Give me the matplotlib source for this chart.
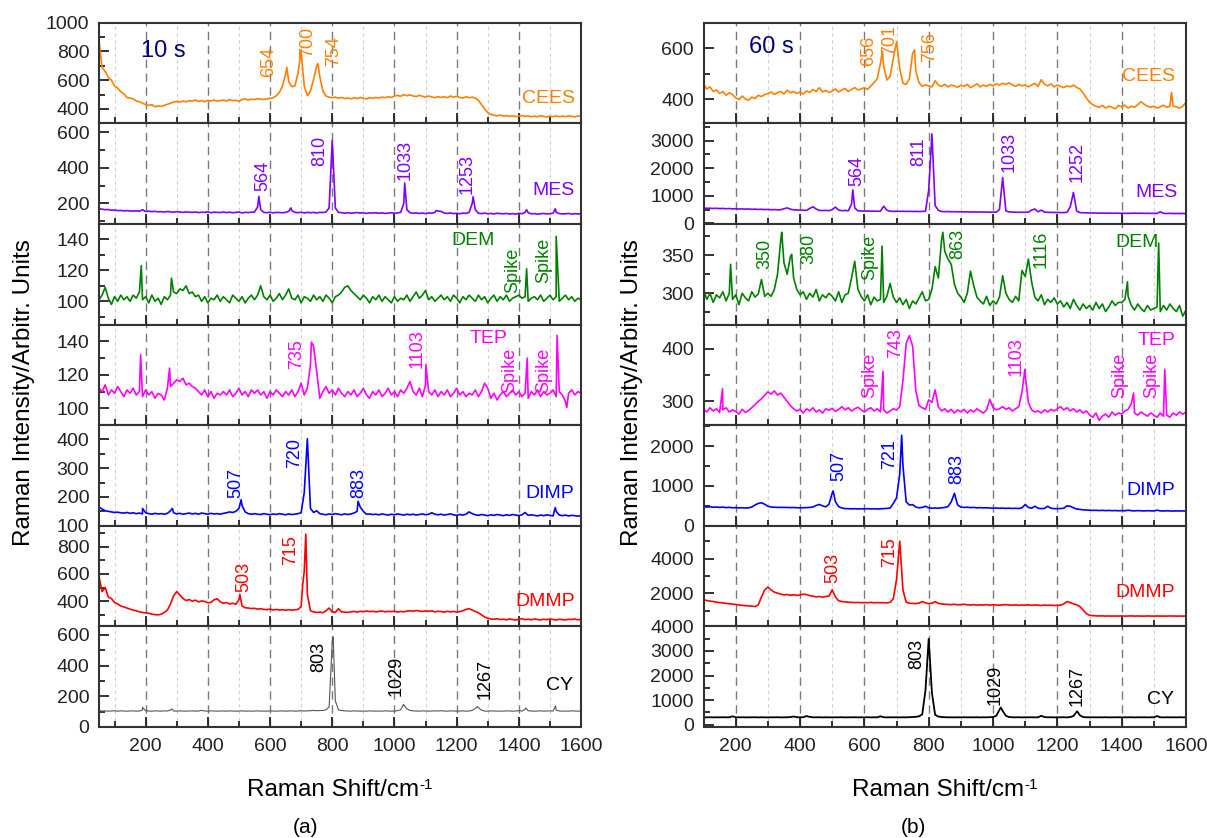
#!/usr/bin/env python3

import numpy as np
import matplotlib.pyplot as plt
from matplotlib.ticker import MultipleLocator

plt.rcParams['font.family'] = ['Liberation Sans', 'DejaVu Sans']
plt.rcParams['mathtext.default'] = 'regular'

# Raman shift grids (cm-1), 10 s panel and 60 s panel
shift_a = np.arange(50, 1601, 10)
shift_b = np.arange(100, 1601, 10)

# ---------------- (a) 10 s ----------------
cees_a = [880, 690, 660, 620, 600, 560, 545, 520, 505, 480,
          475, 470, 455, 450, 440, 430, 425, 430, 415, 420,
          418, 425, 432, 440, 448, 452, 448, 455, 450, 458,
          455, 462, 452, 458, 450, 460, 455, 462, 455, 458,
          462, 455, 465, 458, 460, 452, 466, 470, 462, 468,
          465, 472, 468, 466, 470, 474, 478, 492, 515, 560,
          640, 590, 555, 560, 650, 800, 560, 492, 525, 605,
          700, 625, 525, 490, 482, 478, 482, 475, 480, 472,
          476, 470, 478, 472, 480, 474, 470, 478, 473, 480,
          476, 482, 478, 485, 480, 490, 494, 488, 500, 492,
          498, 490, 486, 495, 488, 482, 490, 484, 478, 486,
          480, 485, 478, 490, 482, 488, 480, 476, 485, 478,
          482, 476, 460, 430, 400, 375, 362, 356, 352, 358,
          350, 354, 348, 352, 346, 350, 355, 348, 352, 345,
          350, 346, 352, 348, 344, 350, 347, 352, 346, 350,
          346, 352, 348, 345, 350, 352]
cees_a_pk = ([654, 754], [690, 715])

mes_a = [170, 168, 165, 166, 162, 163, 160, 161, 158, 160,
         158, 157, 159, 156, 165, 155, 157, 154, 156, 153,
         154, 152, 155, 153, 151, 154, 152, 150, 153, 151,
         150, 152, 149, 151, 150, 153, 148, 151, 150, 149,
         152, 149, 151, 148, 150, 152, 147, 150, 149, 151,
         152, 180, 165, 150, 148, 151, 147, 150, 149, 148,
         150, 156, 160, 150, 148, 151, 147, 150, 148, 150,
         147, 150, 149, 152, 175, 555, 175, 150, 148, 146,
         148, 145, 147, 149, 146, 148, 144, 147, 146, 148,
         145, 147, 144, 146, 148, 145, 147, 150, 200, 165,
         148, 145, 147, 144, 146, 143, 147, 145, 150, 158,
         155, 146, 144, 147, 143, 145, 142, 146, 144, 150,
         200, 165, 145, 143, 146, 142, 144, 141, 145, 143,
         142, 144, 141, 143, 140, 145, 142, 150, 148, 142,
         143, 140, 142, 144, 141, 143, 145, 150, 143, 141,
         142, 144, 140, 143, 141, 142]
mes_a_pk = ([564, 667, 1033, 1134, 1253, 1425, 1517],
            [240, 175, 315, 160, 238, 165, 170])

dem_a = [101, 104, 109, 102, 98, 103, 100, 104, 101, 103,
         100, 104, 102, 106, 101, 103, 99, 104, 100, 102,
         98, 103, 101, 104, 106, 105, 108, 107, 110, 105,
         106, 103, 104, 100, 103, 99, 102, 101, 104, 100,
         103, 101, 99, 104, 102, 100, 103, 99, 102, 104,
         101, 104, 110, 103, 101, 104, 100, 102, 105, 101,
         104, 108, 102, 101, 104, 99, 103, 102, 100, 104,
         101, 103, 100, 104, 102, 99, 103, 104, 106, 109,
         110, 107, 105, 103, 101, 104, 102, 99, 103, 101,
         104, 100, 103, 101, 99, 103, 100, 102, 101, 104,
         100, 103, 106, 102, 104, 107, 101, 103, 100, 102,
         104, 101, 103, 100, 104, 102, 99, 103, 101, 104,
         102, 100, 104, 101, 103, 99, 102, 104, 100, 103,
         101, 104, 100, 102, 103, 104, 102, 103, 100, 102,
         103, 101, 104, 100, 102, 104, 101, 103, 100, 102,
         104, 101, 103, 100, 102, 101]
dem_a_pk = ([186, 283, 1425, 1520], [123, 115, 121, 142])

tep_a = [112, 110, 114, 108, 111, 109, 113, 110, 107, 111,
         109, 112, 108, 110, 107, 111, 108, 110, 106, 109,
         108, 105, 112, 113, 115, 117, 116, 118, 114, 115,
         113, 112, 110, 108, 111, 107, 110, 106, 109, 108,
         110, 108, 111, 107, 109, 112, 108, 110, 107, 111,
         109, 111, 108, 110, 106, 110, 108, 111, 109, 107,
         110, 108, 111, 107, 110, 115, 108, 112, 126, 137,
         122, 106, 110, 113, 109, 111, 108, 112, 109, 107,
         110, 108, 111, 107, 109, 112, 108, 106, 110, 108,
         111, 107, 109, 112, 108, 110, 107, 111, 109, 112,
         116, 110, 108, 112, 107, 114, 110, 108, 111, 107,
         110, 108, 111, 107, 109, 112, 108, 110, 107, 109,
         108, 111, 107, 110, 115, 112, 106, 109, 105, 108,
         110, 107, 109, 111, 108, 110, 107, 109, 106, 110,
         108, 111, 107, 110, 108, 109, 111, 107, 110, 108,
         104, 109, 111, 108, 110, 109]
tep_a_pk = ([184, 277, 733, 1101, 1427, 1523, 1554],
            [132, 124, 139.5, 126, 130, 143.5, 100.5])

dimp_a = [165, 158, 152, 150, 148, 146, 147, 145, 144, 146,
          143, 145, 142, 144, 141, 145, 142, 140, 143, 141,
          142, 140, 143, 152, 145, 141, 143, 140, 142, 144,
          141, 143, 140, 144, 142, 140, 143, 141, 142, 140,
          143, 145, 148, 146, 150, 160, 170, 148, 142, 140,
          142, 140, 139, 142, 140, 138, 141, 139, 142, 140,
          138, 141, 139, 140, 142, 145, 215, 402, 160, 146,
          152, 142, 140, 138, 141, 139, 142, 140, 138, 141,
          139, 141, 144, 150, 165, 150, 140, 141, 139, 140,
          138, 141, 139, 137, 140, 138, 141, 139, 137, 140,
          138, 140, 137, 139, 141, 138, 140, 145, 140, 138,
          140, 137, 139, 141, 138, 136, 139, 137, 140, 148,
          142, 138, 136, 139, 137, 135, 138, 136, 139, 137,
          135, 138, 136, 139, 137, 135, 138, 146, 136, 138,
          136, 134, 137, 135, 138, 136, 134, 150, 137, 135,
          137, 134, 136, 135, 133, 136]
dimp_a_pk = ([190, 286, 507, 883, 1517], [160, 160, 190, 185, 163])

dmmp_a = [580, 470, 500, 430, 420, 390, 380, 365, 358, 350,
          342, 335, 330, 322, 318, 315, 312, 305, 302, 300,
          305, 318, 335, 380, 440, 470, 445, 420, 405, 412,
          400, 408, 395, 402, 398, 388, 392, 410, 418, 395,
          385, 390, 380, 385, 378, 410, 365, 352, 350, 346,
          348, 342, 345, 340, 338, 342, 336, 340, 335, 338,
          334, 338, 335, 337, 340, 360, 620, 450, 330, 322,
          318, 320, 316, 330, 350, 322, 318, 345, 322, 320,
          318, 322, 325, 320, 326, 323, 328, 324, 326, 322,
          325, 328, 322, 326, 324, 327, 320, 325, 322, 328,
          330, 326, 332, 328, 325, 329, 326, 330, 322, 326,
          324, 320, 326, 322, 325, 320, 324, 330, 340, 345,
          335, 325, 315, 300, 285, 275, 270, 268, 272, 266,
          268, 264, 270, 266, 262, 268, 272, 265, 268, 264,
          270, 266, 263, 268, 265, 270, 266, 262, 268, 265,
          263, 268, 266, 270, 264, 268]
dmmp_a_pk = ([503, 705, 715], [450, 520, 891])

cy_a = [106, 104, 105, 103, 104, 106, 103, 105, 104, 103,
        104, 105, 103, 104, 110, 106, 104, 103, 105, 104,
        103, 105, 104, 110, 104, 103, 105, 104, 103, 104,
        105, 103, 104, 108, 104, 103, 105, 104, 103, 104,
        104, 103, 105, 104, 103, 104, 105, 103, 104, 103,
        104, 105, 103, 104, 103, 105, 104, 103, 104, 105,
        103, 104, 105, 103, 104, 106, 104, 105, 106, 108,
        106, 107, 108, 112, 130, 560, 170, 112, 107, 105,
        104, 103, 105, 104, 103, 104, 103, 105, 104, 103,
        104, 103, 105, 104, 103, 104, 106, 112, 145, 118,
        108, 105, 104, 103, 105, 104, 103, 104, 105, 104,
        106, 104, 103, 105, 104, 103, 104, 105, 103, 104,
        108, 120, 125, 110, 104, 103, 105, 104, 103, 104,
        103, 105, 104, 103, 104, 106, 104, 115, 106, 104,
        103, 104, 105, 103, 104, 105, 104, 110, 104, 103,
        104, 103, 105, 104, 103, 104]
cy_a_pk = ([190, 285, 803, 1029, 1267, 1422, 1518],
           [128, 118, 585, 146, 133, 124, 137])

# ---------------- (b) 60 s ----------------
cees_b = [457, 440, 448, 430, 436, 422, 430, 415, 425, 418,
          405, 398, 412, 400, 396, 408, 402, 415, 410, 418,
          422, 428, 418, 425, 430, 420, 435, 425, 430, 422,
          428, 420, 432, 426, 438, 430, 445, 428, 434, 426,
          432, 440, 428, 436, 442, 430, 438, 445, 436, 440,
          445, 438, 452, 465, 480, 540, 530, 475, 490, 560,
          626, 520, 462, 458, 480, 580, 510, 465, 450, 456,
          452, 448, 472, 455, 450, 458, 448, 455, 452, 446,
          455, 450, 458, 445, 452, 460, 448, 455, 450, 458,
          452, 460, 455, 462, 458, 464, 456, 450, 458, 452,
          456, 448, 455, 462, 450, 476, 458, 452, 460, 448,
          455, 450, 445, 452, 448, 455, 446, 440, 425, 405,
          388, 378, 372, 368, 375, 365, 372, 368, 362, 375,
          370, 376, 365, 372, 368, 378, 390, 380, 372, 368,
          372, 365, 370, 376, 368, 372, 372, 370, 365, 372,
          388]
cees_b_pk = ([656, 756, 1555], [587, 593, 427])

mes_b = [555, 545, 550, 540, 548, 535, 542, 530, 538, 525,
         530, 520, 525, 515, 520, 510, 515, 505, 510, 500,
         505, 495, 500, 490, 495, 530, 560, 515, 490, 485,
         480, 475, 470, 540, 600, 520, 470, 465, 470, 460,
         500, 590, 480, 460, 470, 455, 700, 560, 455, 450,
         445, 450, 440, 445, 438, 442, 620, 480, 440, 436,
         440, 435, 438, 432, 436, 430, 434, 428, 432, 440,
         1200, 3240, 650, 470, 430, 425, 428, 420, 425, 418,
         420, 415, 418, 412, 416, 410, 414, 408, 412, 405,
         410, 405, 500, 1660, 450, 415, 410, 405, 400, 405,
         400, 410, 480, 520, 420, 480, 410, 400, 398, 395,
         392, 395, 390, 400, 600, 1120, 450, 390, 385, 380,
         378, 375, 372, 370, 374, 368, 372, 366, 370, 368,
         365, 368, 362, 366, 370, 364, 368, 362, 365, 360,
         364, 360, 420, 362, 358, 362, 356, 360, 355, 358,
         356]
mes_b_pk = ([564], [1210])

dem_b = [305, 292, 300, 288, 298, 294, 302, 290, 300, 292,
         298, 285, 300, 294, 290, 302, 295, 299, 318, 296,
         300, 296, 305, 325, 370, 340, 325, 348, 320, 305,
         298, 302, 292, 300, 295, 305, 290, 298, 294, 300,
         296, 290, 302, 288, 298, 300, 320, 342, 305, 296,
         290, 298, 285, 295, 290, 292, 288, 296, 313, 295,
         288, 294, 285, 292, 280, 290, 286, 294, 302, 290,
         292, 305, 335, 320, 370, 355, 345, 338, 312, 300,
         295, 288, 300, 329, 310, 295, 290, 286, 296, 284,
         290, 286, 295, 323, 300, 292, 288, 296, 290, 330,
         322, 345, 315, 295, 290, 298, 285, 292, 288, 294,
         286, 290, 282, 288, 280, 292, 284, 278, 286, 280,
         284, 278, 288, 280, 286, 276, 282, 290, 284, 288,
         288, 292, 296, 284, 278, 286, 280, 276, 284, 278,
         280, 282, 276, 284, 278, 286, 280, 276, 284, 270,
         278]
dem_b_pk = ([184, 343, 374, 655, 844, 1418, 1515],
            [338, 380, 351, 362, 380, 315, 366])

tep_b = [285, 280, 288, 282, 286, 279, 284, 288, 280, 284,
         281, 276, 285, 279, 283, 288, 294, 300, 305, 312,
         318, 314, 320, 312, 316, 308, 300, 292, 286, 282,
         285, 278, 286, 282, 288, 280, 284, 278, 286, 283,
         287, 281, 285, 290, 284, 288, 282, 286, 289, 284,
         280, 285, 288, 282, 286, 280, 284, 278, 282, 286,
         284, 290, 340, 410, 425, 405, 320, 292, 288, 285,
         303, 298, 322, 290, 282, 286, 280, 285, 278, 284,
         280, 285, 278, 284, 280, 286, 282, 278, 284, 304,
         288, 284, 286, 290, 285, 288, 282, 286, 290, 318,
         350, 298, 284, 280, 282, 278, 284, 280, 285, 282,
         286, 290, 284, 288, 282, 286, 280, 284, 278, 282,
         275, 270, 278, 264, 272, 276, 270, 280, 274, 278,
         276, 282, 285, 296, 278, 274, 280, 276, 272, 278,
         274, 270, 278, 272, 274, 270, 278, 274, 280, 276,
         280]
tep_b_pk = ([159, 658, 1099, 1437, 1534], [324, 357, 361, 316, 361])

dimp_b = [480, 470, 475, 465, 470, 460, 468, 455, 462, 450,
          455, 448, 452, 445, 450, 470, 520, 560, 576, 540,
          490, 470, 465, 460, 462, 458, 460, 455, 458, 452,
          450, 452, 455, 460, 470, 510, 534, 500, 475, 540,
          820, 600, 480, 445, 430, 428, 424, 428, 422, 426,
          424, 428, 422, 426, 420, 425, 430, 435, 445, 560,
          700, 1300, 1500, 600, 520, 530, 470, 450, 460, 490,
          450, 440, 445, 440, 450, 460, 480, 600, 814, 520,
          470, 460, 465, 455, 460, 450, 455, 448, 452, 445,
          440, 445, 438, 442, 436, 440, 434, 438, 432, 450,
          534, 460, 440, 490, 440, 430, 435, 490, 440, 430,
          428, 432, 440, 500, 490, 450, 420, 410, 400, 395,
          390, 385, 388, 382, 386, 380, 384, 378, 382, 376,
          380, 376, 390, 378, 374, 380, 376, 372, 378, 374,
          372, 390, 374, 370, 376, 372, 368, 374, 370, 372,
          370]
dimp_b_pk = ([503, 716], [873, 2271])

dmmp_b = [1635, 1600, 1560, 1540, 1500, 1480, 1460, 1430, 1410, 1390,
          1370, 1340, 1320, 1300, 1290, 1270, 1250, 1350, 1800, 2200,
          2365, 2200, 2080, 2020, 1960, 1920, 1940, 1900, 1930, 1890,
          1920, 1960, 1940, 1880, 1850, 1800, 1830, 1790, 1830, 1850,
          2210, 1800, 1577, 1540, 1520, 1500, 1490, 1480, 1485, 1470,
          1480, 1470, 1490, 1465, 1480, 1470, 1475, 1460, 1490, 1700,
          2800, 5000, 2200, 1500, 1440, 1430, 1420, 1450, 1540, 1460,
          1420, 1440, 1537, 1430, 1400, 1380, 1370, 1360, 1380, 1350,
          1360, 1380, 1350, 1340, 1360, 1330, 1350, 1340, 1360, 1330,
          1350, 1340, 1330, 1350, 1360, 1340, 1330, 1350, 1320, 1340,
          1330, 1350, 1320, 1340, 1330, 1310, 1340, 1320, 1330, 1310,
          1320, 1330, 1400, 1537, 1480, 1400, 1350, 1250, 1050, 850,
          750, 730, 720, 710, 715, 705, 712, 700, 710, 705,
          712, 700, 708, 715, 702, 710, 705, 700, 712, 706,
          702, 710, 704, 708, 700, 712, 706, 702, 708, 700,
          705]
dmmp_b_pk = ([], [])

cy_b = [300, 298, 302, 296, 300, 298, 302, 300, 296, 340,
        300, 298, 302, 296, 300, 298, 302, 296, 300, 298,
        296, 300, 298, 302, 296, 300, 298, 310, 330, 305,
        298, 302, 350, 315, 300, 298, 302, 296, 300, 298,
        296, 300, 298, 302, 296, 300, 298, 302, 296, 300,
        298, 302, 296, 300, 298, 340, 302, 296, 300, 298,
        302, 296, 300, 298, 305, 310, 318, 340, 420, 1400,
        3490, 1300, 400, 330, 310, 302, 298, 300, 296, 300,
        298, 302, 296, 300, 298, 302, 296, 300, 298, 302,
        310, 360, 600, 560, 360, 310, 300, 298, 302, 296,
        300, 298, 302, 296, 300, 360, 310, 298, 302, 296,
        300, 298, 302, 296, 310, 350, 520, 380, 310, 300,
        298, 302, 296, 300, 298, 302, 296, 300, 298, 302,
        296, 300, 298, 302, 296, 300, 298, 302, 296, 300,
        298, 350, 300, 296, 302, 298, 300, 296, 302, 298,
        300]
cy_b_pk = ([1024, 1262], [700, 540])

names = ['CEES', 'MES', 'DEM', 'TEP', 'DIMP', 'DMMP', 'CY']
colors_a = ['#ff8000', '#8000ff', '#008000', '#ff00ff', '#0000ff', '#ff0000', '#555555']
colors_b = ['#ff8000', '#8000ff', '#008000', '#ff00ff', '#0000ff', '#ff0000', '#000000']

series_a = [(cees_a, cees_a_pk), (mes_a, mes_a_pk), (dem_a, dem_a_pk), (tep_a, tep_a_pk),
            (dimp_a, dimp_a_pk), (dmmp_a, dmmp_a_pk), (cy_a, cy_a_pk)]
series_b = [(cees_b, cees_b_pk), (mes_b, mes_b_pk), (dem_b, dem_b_pk), (tep_b, tep_b_pk),
            (dimp_b, dimp_b_pk), (dmmp_b, dmmp_b_pk), (cy_b, cy_b_pk)]

# y limits and (major, minor) tick steps per row
ylims_a = [(300, 1000), (85, 651), (85, 150), (90, 150), (100, 449), (216, 952), (0, 656)]
ysteps_a = [(200, 100), (200, 100), (20, 10), (20, 10), (100, 50), (200, 100), (200, 100)]
ylims_b = [(305, 700), (-20, 3625), (259, 391), (255, 446), (0, 2525), (115, 5885), (-94, 4000)]
ysteps_b = [(200, 100), (1000, 500), (50, 25), (100, 50), (1000, 500), (2000, 1000), (1000, 500)]

# rotated peak labels: (text, x, y)
peaks_a = [
    [('654', 597, 730), ('700', 721, 864), ('754', 805, 800)],
    [('564', 577, 355), ('810', 760, 496), ('1033', 1033, 447), ('1253', 1233, 364)],
    [('Spike', 1381, 120), ('Spike', 1480, 126.5)],
    [('735', 684, 132.4), ('1103', 1073, 135.4), ('Spike', 1369, 122.4), ('Spike', 1480, 122.4)],
    [('507', 489, 249), ('720', 678, 352), ('883', 884, 249)],
    [('503', 515, 579), ('715', 665, 775)],
    [('803', 756, 454), ('1029', 1005, 335), ('1267', 1291, 313)],
]
peaks_b = [
    [('656', 614, 591), ('701', 679, 633), ('756', 803, 604)],
    [('564', 576, 1916), ('811', 769, 2602), ('1033', 1051, 2578), ('1252', 1262, 2217)],
    [('350', 292, 352), ('380', 428, 358), ('Spike', 616, 347), ('863', 890, 365), ('1116', 1150, 358)],
    [('Spike', 616, 350), ('743', 697, 410), ('1103', 1071, 386), ('Spike', 1394, 350), ('Spike', 1494, 350)],
    [('507', 520, 1491), ('721', 679, 1805), ('883', 888, 1424)],
    [('503', 501, 3442), ('715', 679, 4404)],
    [('803', 763, 2890), ('1029', 1005, 1617), ('1267', 1262, 1590)],
]
# compound name positions: (x, y, ha)
name_pos_a = [(1579, 476, 'right'), (1579, 274, 'right'), (1254, 139, 'center'),
              (1304, 141.4, 'center'), (1579, 211, 'right'), (1579, 400, 'right'),
              (1573, 270, 'right')]
name_pos_b = [(1567, 489, 'right'), (1573, 1120, 'right'), (1449, 367, 'center'),
              (1509, 416, 'center'), (1567, 873, 'right'), (1567, 2077, 'right'),
              (1564, 1013, 'right')]


def merged(shift, base, pk):
    base = np.asarray(base, dtype=float)
    assert len(base) == len(shift), (len(base), len(shift))
    x = np.concatenate([shift, np.asarray(pk[0], dtype=float)])
    y = np.concatenate([base, np.asarray(pk[1], dtype=float)])
    order = np.argsort(x, kind='stable')
    return x[order], y[order]


def draw_panel(fig, left, right, shift, xmin, series, colors, ylims, ysteps,
               peaks, name_pos, time_label, time_pos, cy_lw):
    gs = fig.add_gridspec(7, 1, left=left, right=right, top=0.9729,
                          bottom=0.1325, hspace=0)
    axes = []
    for i in range(7):
        ax = fig.add_subplot(gs[i])
        x, y = merged(shift, *series[i])
        lw = cy_lw if i == 6 else 1.2
        ax.plot(x, y, color=colors[i], lw=lw)
        ax.set_xlim(xmin, 1600)
        ax.set_ylim(*ylims[i])
        ax.xaxis.set_major_locator(MultipleLocator(200))
        ax.xaxis.set_minor_locator(MultipleLocator(100))
        ax.yaxis.set_major_locator(MultipleLocator(ysteps[i][0]))
        ax.yaxis.set_minor_locator(MultipleLocator(ysteps[i][1]))
        ax.grid(which='major', axis='x', color='#7a7a7a', lw=1.0, ls=(0, (6, 4)))
        ax.grid(which='minor', axis='x', color='#cfcfcf', lw=0.8, ls=(0, (3, 3)))
        ax.set_axisbelow(True)
        ax.tick_params(which='both', direction='in', top=False, right=False,
                       labelsize=14, width=1.3, colors='#222222')
        ax.tick_params(which='major', length=7)
        ax.tick_params(which='minor', length=4)
        ax.tick_params(axis='y', pad=7)
        ax.tick_params(axis='x', pad=8)
        for sp in ax.spines.values():
            sp.set_linewidth(1.5)
            sp.set_color('#333333')
        if i < 6:
            ax.tick_params(axis='x', labelbottom=False)
        tcol = '#000000' if i == 6 else colors[i]
        for txt, px, py in peaks[i]:
            ax.text(px, py, txt, rotation=90, ha='center', va='center',
                    fontsize=13, color=tcol)
        nx, ny, ha = name_pos[i]
        ax.text(nx, ny, names[i], ha=ha, va='center', fontsize=14, color=tcol)
        if i == 0:
            ax.text(time_pos[0], time_pos[1], time_label, ha='center', va='center',
                    fontsize=17, color='#000080')
        axes.append(ax)
    return axes


def x_label(fig, ax, xc):
    t = fig.text(xc - 7 / 1207, 1 - 790 / 838, 'Raman Shift/cm', ha='center',
                 va='center', fontsize=17.5)
    ax.annotate('-1', xy=(1, 1), xycoords=t, xytext=(0.5, 0.5),
                textcoords='offset points', ha='left', va='top', fontsize=11,
                annotation_clip=False)


def main():
    fig = plt.figure(figsize=(12.07, 8.38), dpi=100)

    axes_a = draw_panel(fig, 0.0820, 0.4814, shift_a, 50, series_a, colors_a, ylims_a,
                        ysteps_a, peaks_a, name_pos_a, '10 s', (258, 800), 0.8)
    axes_b = draw_panel(fig, 0.5829, 0.9826, shift_b, 100, series_b, colors_b, ylims_b,
                        ysteps_b, peaks_b, name_pos_b, '60 s', (310, 606), 1.3)

    ylab = 'Raman Intensity/Arbitr. Units'
    fig.text(24 / 1207, 0.532, ylab, rotation=90, ha='center', va='center', fontsize=17.5)
    fig.text(632 / 1207, 0.532, ylab, rotation=90, ha='center', va='center', fontsize=17.5)
    x_label(fig, axes_a[-1], 0.2817)
    x_label(fig, axes_b[-1], 0.7827)
    fig.text(306 / 1207, 1 - 827 / 838, '(a)', ha='center', va='center', fontsize=15)
    fig.text(913 / 1207, 1 - 827 / 838, '(b)', ha='center', va='center', fontsize=15)

    fig.savefig('out.png', dpi=100)


if __name__ == "__main__":
    main()
